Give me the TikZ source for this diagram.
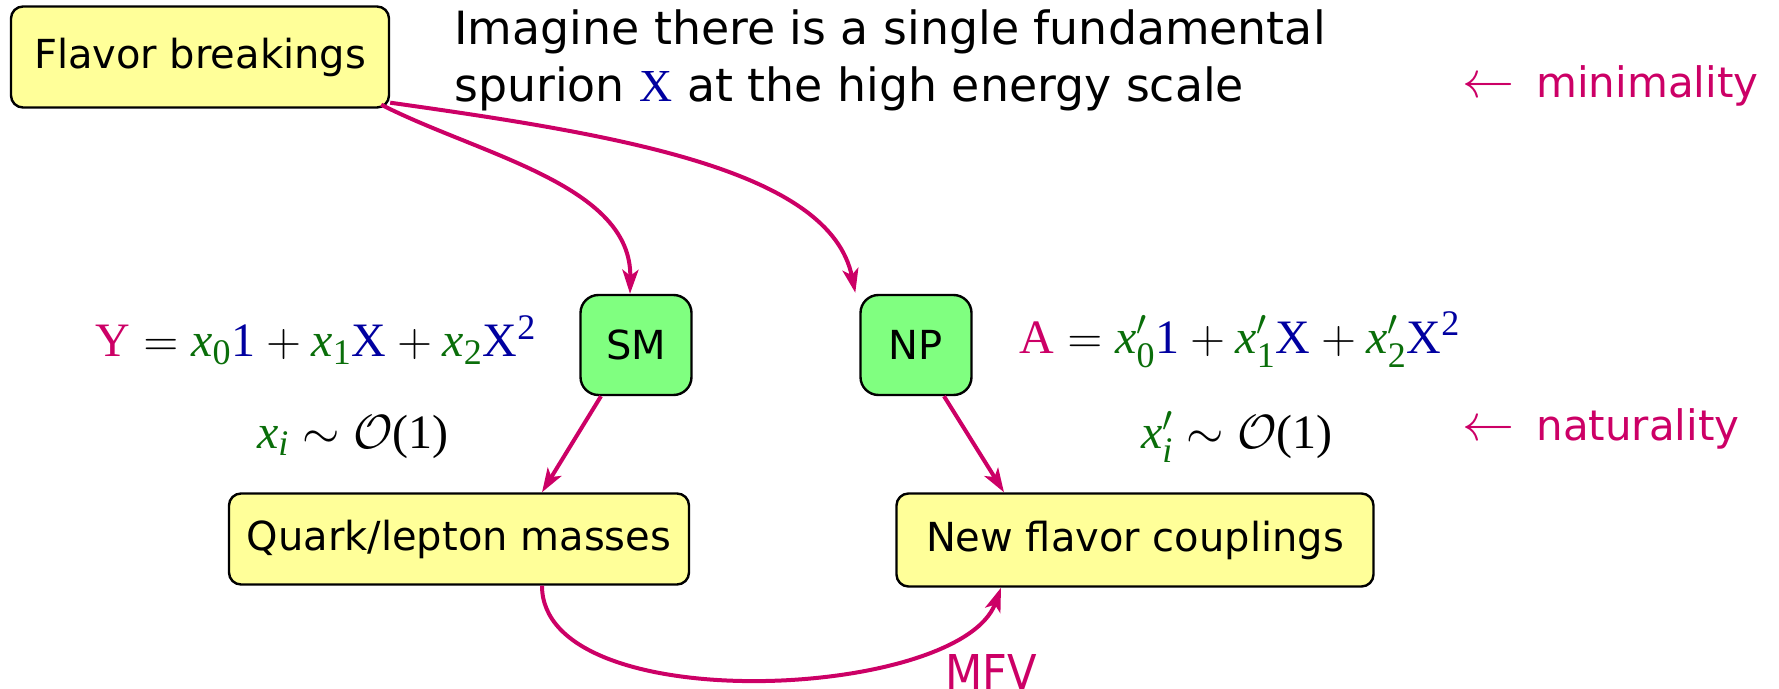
\RequirePackage{fix-cm}
\documentclass[tikz,border=0pt]{standalone}
\usepackage{fontspec}
\usepackage{amsmath}
\setmainfont{DejaVu Sans}
\newfontfamily\cond{DejaVu Sans Condensed}
\newfontfamily\tms{Liberation Serif}
\usetikzlibrary{arrows.meta}
\definecolor{mag}{RGB}{204,0,102}
\definecolor{xblue}{RGB}{0,0,160}
\definecolor{xgreen}{RGB}{10,110,10}
\definecolor{boxyellow}{RGB}{255,255,153}
\definecolor{boxgreen}{RGB}{128,255,128}
\DeclareMathSizes{24}{24}{18}{14}
\newcommand{\tx}[1]{\text{\tms #1}}
\newcommand{\gx}{\tx{\itshape x}}
\newcommand{\larr}{{\fontsize{26}{26}\selectfont$\leftarrow$}\hspace{11pt}}
\begin{document}
\begin{tikzpicture}[x=0.5pt,y=-0.5pt,
  yellowbox/.style={draw=black, line width=1.2pt, fill=boxyellow, rounded corners=6pt,
    inner sep=0pt, font=\fontsize{20}{24}\selectfont},
  greenbox/.style={draw=black, line width=1.2pt, fill=boxgreen, rounded corners=9pt,
    inner sep=0pt, minimum width=55.5pt, minimum height=50pt,
    font=\fontsize{20}{24}\selectfont},
  link/.style={draw=mag, line width=2pt, -{Stealth[length=12pt,width=8pt,inset=3pt]}},
  formula/.style={font=\tms\fontsize{24}{28}\selectfont, inner sep=0pt},
  remark/.style={text=mag, font=\fontsize{21}{25}\selectfont, inner sep=0pt, anchor=west}]
\useasboundingbox (0,0) rectangle (1779,689);

% boxes
\node[yellowbox, minimum width=189pt, minimum height=50.5pt] (fb) at (200,57) {Flavor breakings};
\node[greenbox] (sm) at (636,345) {SM};
\node[greenbox] (np) at (916,345) {NP};
\node[yellowbox, minimum width=230pt, minimum height=45.5pt] (ql) at (459,539) {Quark/lepton masses};
\node[yellowbox, minimum width=238.5pt, minimum height=46.5pt] (nf) at (1135,540) {New flavor couplings};

% texts
\node[anchor=west, align=left, inner sep=0pt, font=\fontsize{22.9}{28.5}\selectfont] (imagine) at (454,60)
  {Imagine there is a single fundamental\\ spurion {\tms\color{xblue}X} at the high energy scale};
\node[remark] (mini) at (1462,86) {\larr minimality};
\node[remark] (natu) at (1462,429) {\larr naturality};

\node[formula] (yeq) at (316,340)
  {${\color{mag}\tx{Y}} = {\color{xgreen}\gx_{\tx{0}}}{\color{xblue}\tx{1}} + {\color{xgreen}\gx_{\tx{1}}}{\color{xblue}\tx{X}} + {\color{xgreen}\gx_{\tx{2}}}{\color{xblue}\tx{X}^{\tx{2}}}$};
\node[formula] (yord) at (353,437)
  {${\color{xgreen}\gx_{\tx{\itshape i}}} \sim \mathcal{O}\tx{(1)}$};
\node[formula] (aeq) at (1240,340)
  {${\color{mag}\tx{A}} = {\color{xgreen}\gx'_{\tx{0}}}{\color{xblue}\tx{1}} + {\color{xgreen}\gx'_{\tx{1}}}{\color{xblue}\tx{X}} + {\color{xgreen}\gx'_{\tx{2}}}{\color{xblue}\tx{X}^{\tx{2}}}$};
\node[formula] (aord) at (1237,437)
  {${\color{xgreen}\gx'_{\tx{\itshape i}}} \sim \mathcal{O}\tx{(1)}$};

\node[anchor=north, inner sep=0pt, text=mag, font=\cond\fontsize{24}{28}\selectfont] (mfv) at (991,654) {MFV};

% connectors
\draw[link] ([xshift=-4.5pt,yshift=2pt]fb.south east) .. controls (480,155) and (632,185) .. ([xshift=-3pt]sm.north);
\draw[link] ([yshift=3pt]fb.south east) .. controls (620,135) and (830,170) .. ([xshift=-2pt,yshift=0.5pt]np.north west);
\draw[link] ([xshift=-17.5pt]sm.south) -- ([xshift=41.5pt]ql.north);
\draw[link] ([xshift=14pt]np.south) -- ([xshift=-65.5pt]nf.north);
\draw[link] ([xshift=41.5pt]ql.south) .. controls (542,720) and (960,700) .. ([xshift=-67pt]nf.south);
\end{tikzpicture}
\end{document}
